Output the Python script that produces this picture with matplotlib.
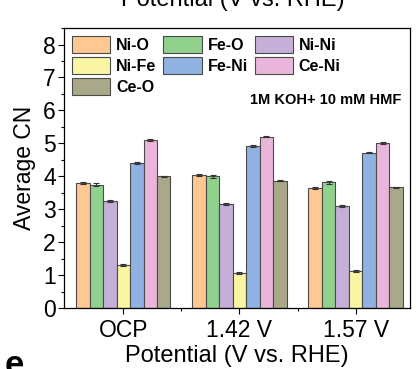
import matplotlib.pyplot as plt
import numpy as np
from matplotlib.ticker import MultipleLocator, FixedLocator

plt.rcParams['font.family'] = ['Liberation Sans', 'DejaVu Sans']

potentials = ["OCP", "1.42 V", "1.57 V"]
bonds = ["Ni-O", "Fe-O", "Ni-Ni", "Ni-Fe", "Fe-Ni", "Ce-Ni", "Ce-O"]
colors = ["#FDC891", "#90D18E", "#C5AFD8", "#FAF5A2", "#8FB2E2", "#EAB5DA", "#A9A98A"]

# average CN per bond at each potential (OCP, 1.42 V, 1.57 V)
ni_o = [3.81, 4.05, 3.65]
fe_o = [3.75, 4.00, 3.82]
ni_ni = [3.25, 3.15, 3.10]
ni_fe = [1.30, 1.08, 1.12]
fe_ni = [4.40, 4.92, 4.72]
ce_ni = [5.10, 5.20, 5.01]
ce_o = [4.00, 3.87, 3.67]
errs = [0.03, 0.05, 0.03, 0.03, 0.02, 0.02, 0.02]

values = [ni_o, fe_o, ni_ni, ni_fe, fe_ni, ce_ni, ce_o]

fig = plt.figure(figsize=(4.19, 3.69), dpi=100)
ax = fig.add_axes([0.153, 0.165, 0.826, 0.759])

x = np.arange(len(potentials))
w = 0.116
bars = []
for i, vals in enumerate(values):
    pos = x + (i - 3) * w
    b = ax.bar(pos, vals, w, color=colors[i], edgecolor="#4a4a4a", linewidth=0.8,
               label=bonds[i], yerr=errs[i], capsize=2.5,
               error_kw=dict(elinewidth=0.8, capthick=0.8, ecolor="#333333"))
    bars.append(b)

ax.set_xlim(-0.51, 2.47)
ax.set_ylim(0, 8.5)
ax.yaxis.set_major_locator(MultipleLocator(1))
ax.yaxis.set_minor_locator(MultipleLocator(0.5))
ax.set_xticks(x)
ax.set_xticklabels(potentials)
ax.xaxis.set_minor_locator(FixedLocator([0.5, 1.5]))
ax.tick_params(axis="both", which="major", labelsize=16.5, direction="out", length=4, width=0.8)
ax.tick_params(axis="both", which="minor", direction="out", length=2.5, width=0.8)
ax.tick_params(axis="x", pad=4)
ax.tick_params(axis="y", pad=2)
for s in ax.spines.values():
    s.set_linewidth(0.9)

ax.set_ylabel("Average CN", fontsize=16.5, labelpad=5)
ax.set_xlabel("Potential (V vs. RHE)", fontsize=17, labelpad=2)

order = [0, 3, 6, 1, 4, 2, 5]
leg = ax.legend([bars[i] for i in order], [bonds[i] for i in order], ncol=3,
                loc="upper left", frameon=False, prop=dict(weight="bold", size=11.5),
                handlelength=2.4, handleheight=1.3, columnspacing=0.45,
                handletextpad=0.35, labelspacing=0.22, borderaxespad=0.1,
                bbox_to_anchor=(0.0, 1.0))

ax.text(0.975, 0.743, "1M KOH+ 10 mM HMF", transform=ax.transAxes, ha="right",
        va="center", fontsize=10.5, fontweight="bold")

# cut-off labels from neighbouring panels
fig.text(0.555, 0.985, "Potential (V vs. RHE)", ha="center", va="baseline", fontsize=17)
fig.text(0.012, -0.035, "e", ha="left", va="bottom", fontsize=25, fontweight="bold")

fig.savefig("out.png", dpi=100)
